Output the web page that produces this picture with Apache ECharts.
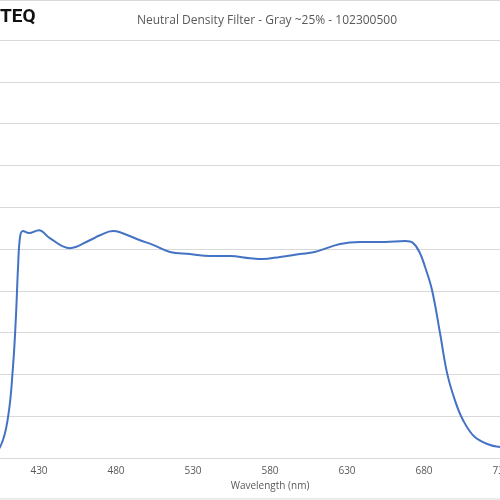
<!DOCTYPE html>
<html>
<head>
<meta charset="utf-8">
<script src="https://cdn.jsdelivr.net/npm/echarts@6/dist/echarts.min.js"></script>
<style>html,body{margin:0;padding:0;background:#fff;}#chart{width:500px;height:500px;}</style>
</head>
<body>
<div id="chart"></div>
<script>
// wavelength (nm) and transmission
var wavelength = [398, 404.7, 409.9, 413.1, 415, 416.4, 417.7, 419.6, 423.5, 430, 437, 450, 463, 469.6, 478, 482.6, 495.6, 504, 515, 528, 541, 554, 567, 575, 586.5, 599.5, 609, 625.5, 638.5, 654.7, 667.7, 673, 677.4, 680.7, 685.2, 690.4, 695, 700, 705.3, 713, 723, 729.4, 735];
var transmission = [1.2, 2.6, 9.8, 21.8, 33.7, 45.7, 52.9, 54.3, 53.8, 54.5, 52.6, 50.2, 52.1, 53.3, 54.3, 54, 52.1, 51, 49.3, 48.8, 48.3, 48.3, 47.8, 47.6, 48.1, 48.8, 49.3, 51.2, 51.7, 51.7, 51.9, 51.4, 49, 45.7, 40.2, 29.9, 20.3, 13.9, 9.1, 5, 3.1, 2.6, 2.2];

var points = wavelength.map(function (w, i) { return [w, transmission[i]]; });

var myChart = echarts.init(document.getElementById('chart'));

myChart.setOption({
    animation: false,
    title: {
        text: 'Neutral Density Filter - Gray ~25% - 102300500',
        left: 262,
        top: 10,
        textAlign: 'center',
        textStyle: { fontSize: 12, fontWeight: 'normal', color: '#595959', fontFamily: 'Open Sans' }
    },
    graphic: [
        { type: 'rect', shape: { x: -10, y: 0.5, width: 520, height: 498.5 }, style: { fill: 'none', stroke: '#d9d9d9' } },
        { type: 'text', left: 0, top: 8, style: { text: 'TEQ', font: 'bold 19px Roboto', fill: '#111' } }
    ],
    grid: { left: -38, right: -78, top: 40, bottom: 42, outerBoundsMode: 'none', containLabel: false },
    xAxis: {
        type: 'value',
        min: 380,
        max: 780,
        interval: 50,
        name: 'Wavelength (nm)',
        nameLocation: 'middle',
        nameGap: 22,
        nameTextStyle: { color: '#595959', fontSize: 10, fontFamily: 'Open Sans' },
        axisLine: { lineStyle: { color: '#d9d9d9' } },
        axisTick: { show: false },
        splitLine: { show: false },
        axisLabel: { color: '#595959', fontSize: 10, fontFamily: 'Open Sans', margin: 8 }
    },
    yAxis: {
        type: 'value',
        min: 0,
        max: 100,
        interval: 10,
        axisLabel: { show: false },
        axisLine: { show: false },
        axisTick: { show: false },
        splitLine: { lineStyle: { color: '#d9d9d9' } }
    },
    series: [{
        type: 'line',
        data: points,
        smooth: 0.4,
        showSymbol: false,
        lineStyle: { color: '#4472c4', width: 2 }
    }]
});
</script>
</body>
</html>
